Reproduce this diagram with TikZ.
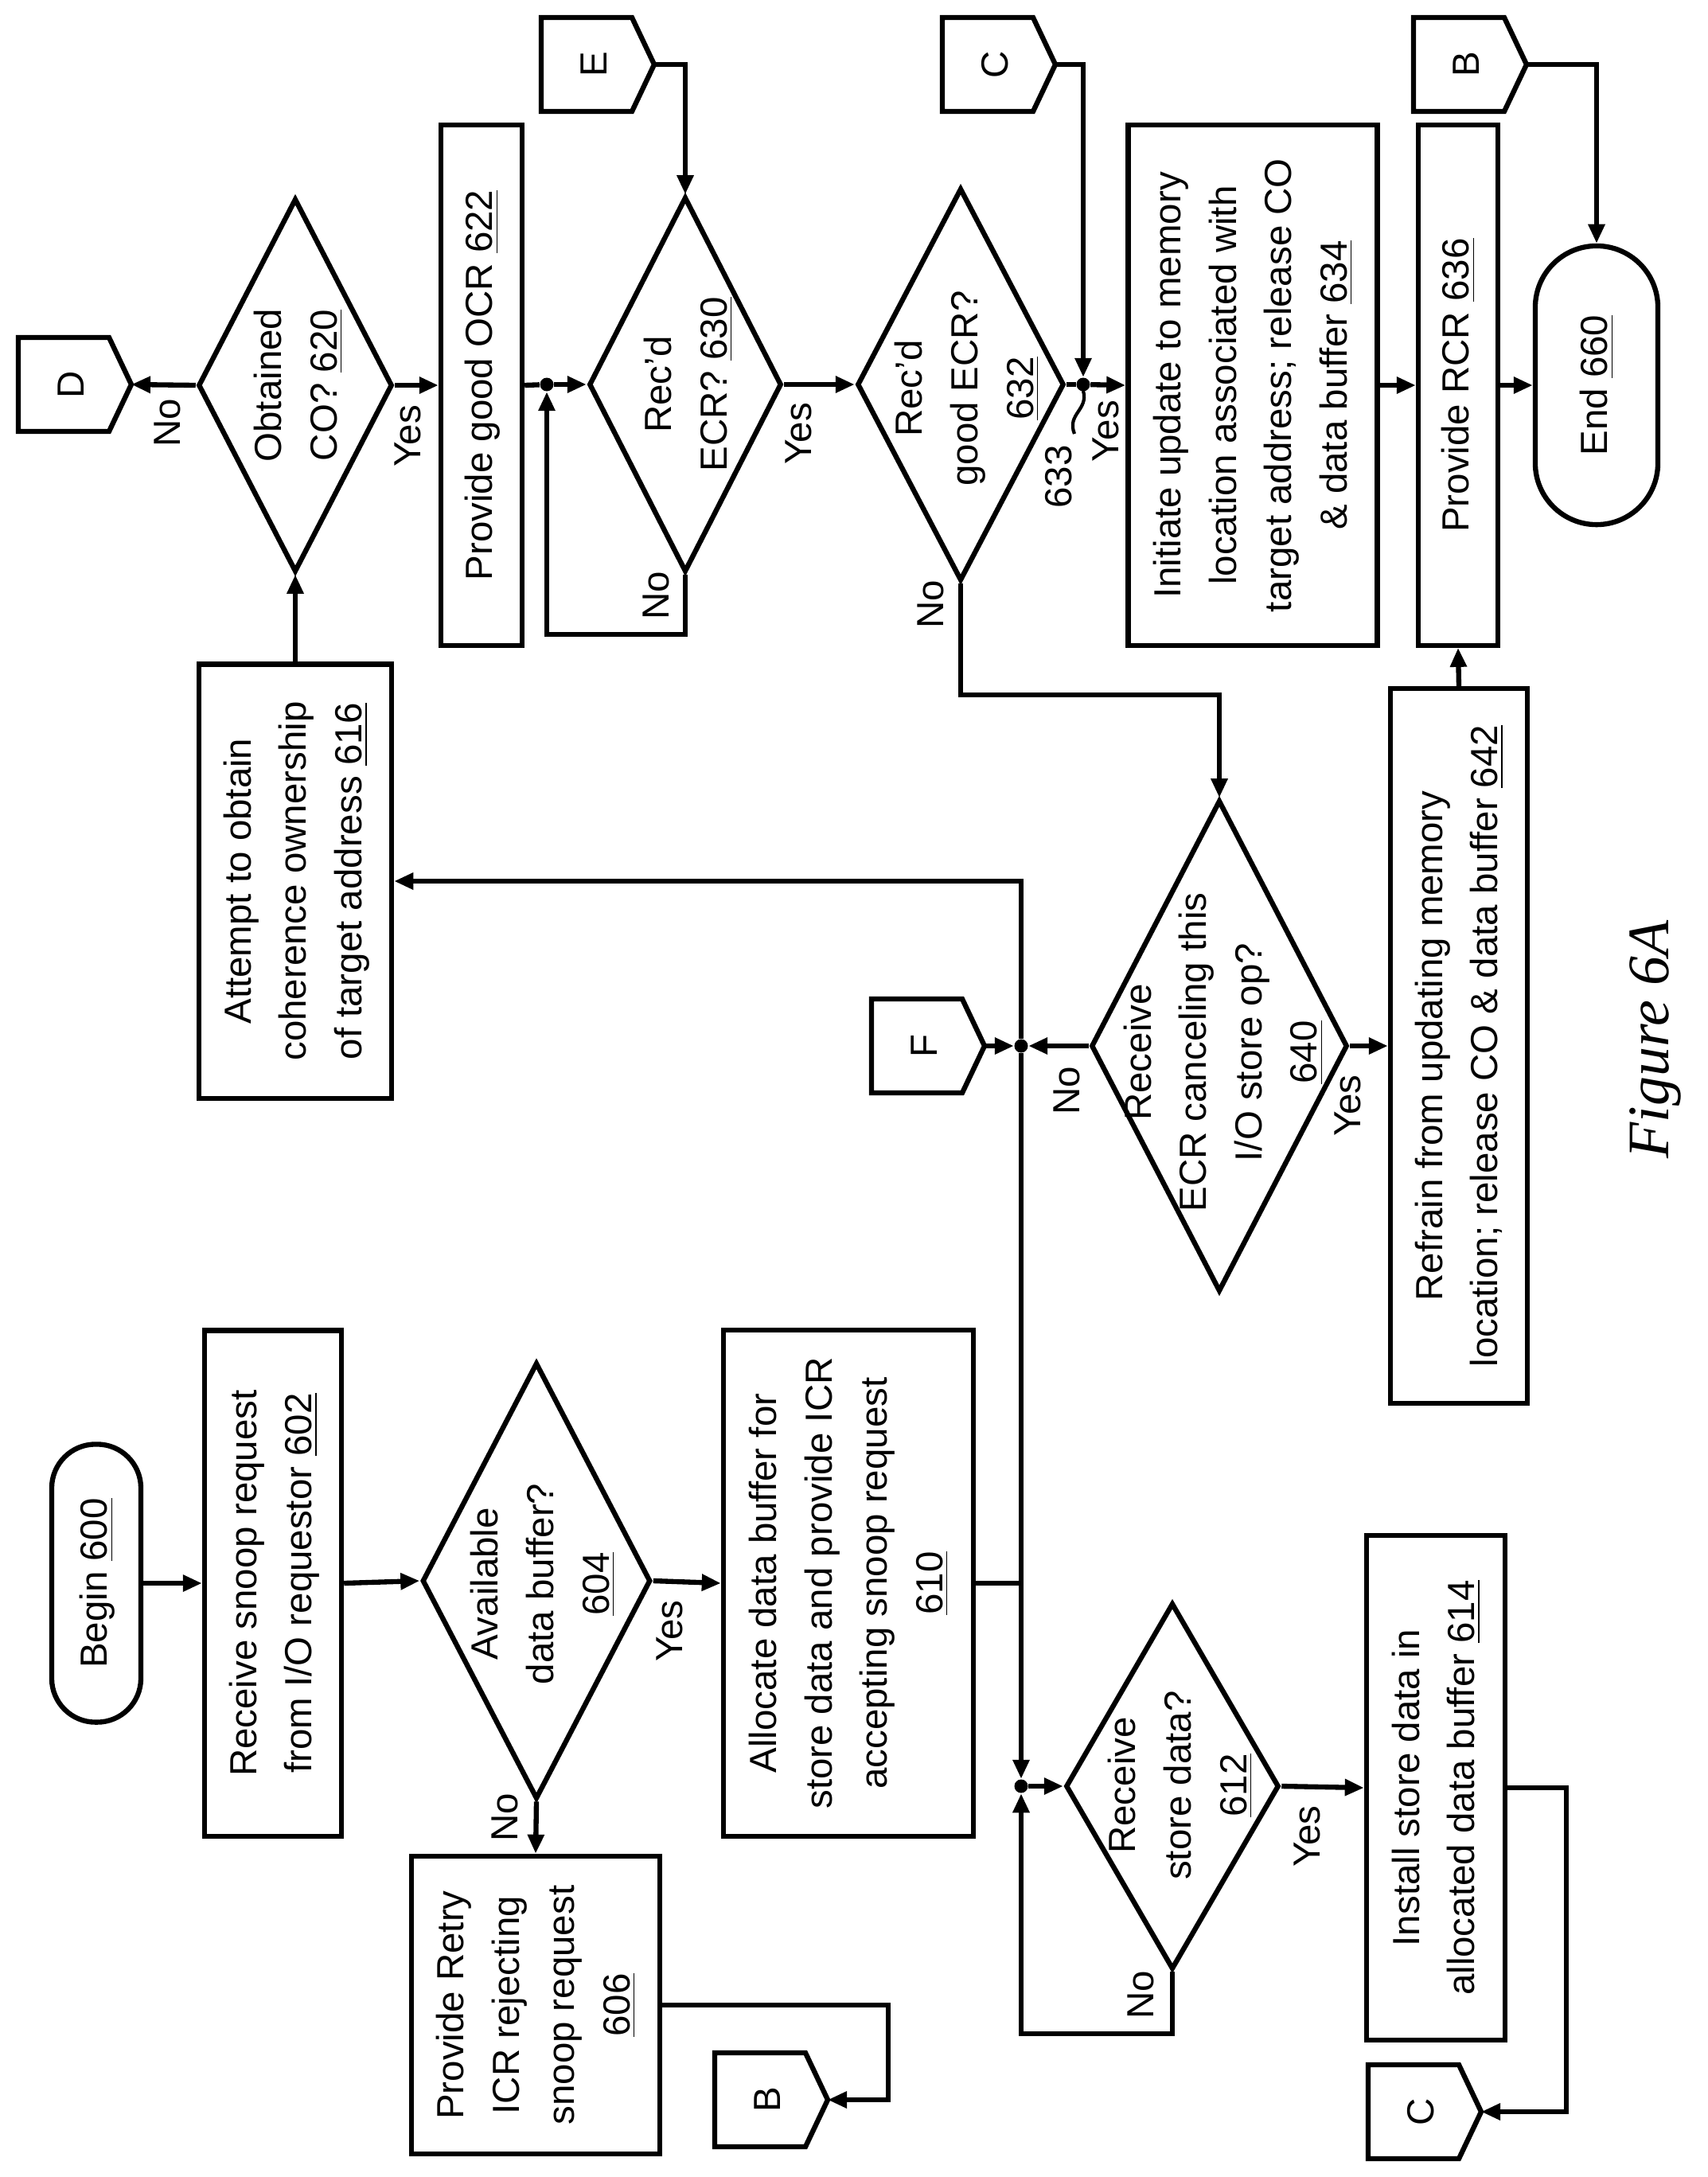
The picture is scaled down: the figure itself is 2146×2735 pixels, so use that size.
\documentclass[tikz,border=0pt]{standalone}
\usepackage{fontspec}
\setmainfont{Liberation Sans}
\newfontfamily\figfont{Liberation Serif}
\usetikzlibrary{shapes.geometric,arrows.meta}
\newcommand\rt[1]{\rotatebox{90}{\begin{tabular}{@{}c@{}}#1\end{tabular}}}
\newcommand\ul[1]{\underline{#1}}
\begin{document}
\begin{tikzpicture}[x=0.01cm,y=-0.01cm,
  font=\fontsize{13.5}{19.8}\selectfont,
  line/.style={line width=1.8pt},
  arr/.style={line width=1.8pt,-{Triangle[length=0.24cm,width=0.2cm]}},
  box/.style={draw,line width=1.8pt,rectangle,inner sep=0pt},
  term/.style={box,rounded corners=#1},
  dia/.style={draw,line width=1.8pt,diamond,inner sep=0pt},
  lab/.style={rotate=90,inner sep=1pt},
  dt/.style={rotate=90,align=center,inner sep=0pt},
  dot/.style={circle,fill,inner sep=0pt,minimum size=0.17cm}]
\useasboundingbox (0,0) rectangle (2146,2735);
\newcommand\offpg[4]{%
  \draw[line] (#2-142,#3-59) -- (#2-28,#3-59) -- (#2,#3) -- (#2-28,#3+59) -- (#2-142,#3+59) -- cycle;
  \node[rotate=90] (#1l) at (#2-76,#3) {#4};
  \coordinate (#1) at (#2,#3);}
% nodes
\node[term=0.55cm,minimum width=1.12cm,minimum height=3.49cm] (begin) at (121,1989) {\rt{Begin \ul{600}}};
\node[box,minimum width=1.72cm,minimum height=6.35cm] (b602) at (343,1989) {\rt{Receive snoop request\\from I/O requestor \ul{602}}};
\node[dia,minimum width=2.87cm,minimum height=5.48cm] (d604) at (674,1986) {};
\node[dt] (t604) at (682,1990) {Available\\data buffer?\\\ul{604}};
\node[box,minimum width=3.12cm,minimum height=3.74cm] (b606) at (673,2519) {\rt{Provide Retry\\ICR rejecting\\snoop request\\\ul{606}}};
\node[box,minimum width=3.14cm,minimum height=6.36cm] (b610) at (1066,1989) {\rt{Allocate data buffer for\\store data and provide ICR\\accepting snoop request\\\ul{610}}};
\node[dia,minimum width=2.68cm,minimum height=4.60cm] (d612) at (1473,2244) {};
\node[dt] (t612) at (1483,2243) {Receive\\store data?\\\ul{612}};
\node[box,minimum width=1.74cm,minimum height=6.34cm] (b614) at (1804,2246) {\rt{Install store data in\\allocated data buffer \ul{614}}};
\node[box,minimum width=2.42cm,minimum height=5.45cm] (b616) at (371,1107) {\rt{Attempt to obtain\\coherence ownership\\of target address \ul{616}}};
\node[dia,minimum width=2.44cm,minimum height=4.69cm] (d620) at (371,484) {};
\node[dt] (t620) at (375,484) {Obtained\\CO? \ul{620}};
\node[box,minimum width=1.02cm,minimum height=6.54cm] (b622) at (605,484) {\rt{Provide good OCR \ul{622}}};
\node[dia,minimum width=2.42cm,minimum height=4.71cm] (d630) at (861,483) {};
\node[dt] (t630) at (865,483) {Rec’d\\ECR? \ul{630}};
\node[dia,minimum width=2.60cm,minimum height=4.93cm] (d632) at (1207,483) {};
\node[dt] (t632) at (1215,488) {Rec’d\\good ECR?\\\ul{632}};
\node[box,minimum width=3.13cm,minimum height=6.53cm] (b634) at (1574,484) {\rt{Initiate update to memory\\location associated with\\target address; release CO\\\& data buffer \ul{634}}};
\node[box,minimum width=1.00cm,minimum height=6.53cm] (b636) at (1832,484) {\rt{Provide RCR \ul{636}}};
\node[term=0.77cm,minimum width=1.54cm,minimum height=3.50cm] (end) at (2006,484) {\rt{End \ul{660}}};
\node[dia,minimum width=3.22cm,minimum height=6.17cm] (d640) at (1532,1314) {};
\node[dt] (t640) at (1537,1322) {Receive\\ECR canceling this\\I/O store op?\\\ul{640}};
\node[box,minimum width=1.72cm,minimum height=8.97cm] (b642) at (1833,1314) {\rt{Refrain from updating memory\\location; release CO \& data buffer \ul{642}}};
\node[rotate=90,font=\figfont\itshape\fontsize{21}{24}\selectfont] (fig) at (2080,1306) {Figure 6A};
% off-page connectors
\offpg{D}{165}{483}{D}
\offpg{Et}{822}{81}{E}
\offpg{Ct}{1326}{81}{C}
\offpg{Bt}{1918}{81}{B}
\offpg{F}{1237}{1314}{F}
\offpg{Bb}{1040}{2638}{B}
\offpg{Cb}{1861}{2653}{C}
% junctions
\node[dot] (j630) at (687,483) {};
\node[dot] (j633) at (1361,483) {};
\node[dot] (jF) at (1283,1314) {};
\node[dot] (j612) at (1283,2244) {};
% connectors
\draw[arr] (begin.east) -- (b602.west);
\draw[arr] (b602.east) -- (d604.west);
\draw[arr] (d604.east) -- (b610.west);
\draw[arr] (d604.south) -- (b606.north);
\draw[arr] (b606.east) -- ++(284,0) |- (Bb);
\draw[line] (b610.east) -- (b610.east -| jF);
\draw[arr] (jF) |- (b616.east);
\draw[arr] (jF) -- (j612);
\draw[arr] (j612) -- (d612.west);
\draw[arr] (d612.south) -- ++(0,78) -| (j612);
\draw[arr] (d612.east) -- (b614.west);
\draw[arr] (b614.east) -- ++(74,0) |- (Cb);
\draw[arr] (b616.north) -- (d620.south);
\draw[arr] (d620.west) -- (D);
\draw[arr] (d620.east) -- (b622.west);
\draw[line] (b622.east) -- (j630);
\draw[arr] (j630) -- (d630.west);
\draw[arr] (d630.south) -- ++(0,75) -| (j630);
\draw[arr] (Et) -| (d630.north);
\draw[arr] (d630.east) -- (d632.west);
\draw[line] (d632.east) -- (j633);
\draw[arr] (j633) -- (b634.west);
\draw[arr] (Ct) -| (j633);
\draw[arr] (b634.east) -- (b636.west);
\draw[arr] (b636.east) -- (end.west);
\draw[arr] (Bt) -| (end.north);
\draw[arr] (d632.south) -- ++(0,140) -| (d640.north);
\draw[arr] (d640.west) -- (jF);
\draw[arr] (F) -- (jF);
\draw[arr] (d640.east) -- (b642.west);
\draw[arr] (b642.north) -- (b636.south);
% labels
\node[lab] (n620) at (210,531) {No};
\node[lab] (y620) at (512,548) {Yes};
\node[lab] (n630) at (824,748) {No};
\node[lab] (y630) at (1003,545) {Yes};
\node[lab] (n632) at (1169,759) {No};
\node[lab] (y632) at (1389,542) {Yes};
\node[lab] (l633) at (1330,599) {633};
\draw[line,line width=1.2pt] (1350,545) .. controls (1340,520) and (1368,515) .. (1361,491);
\node[lab] (n640) at (1340,1370) {No};
\node[lab] (y640) at (1693,1389) {Yes};
\node[lab] (n604) at (634,2283) {No};
\node[lab] (y604) at (841,2049) {Yes};
\node[lab] (n612) at (1433,2506) {No};
\node[lab] (y612) at (1642,2307) {Yes};
\end{tikzpicture}
\end{document}
